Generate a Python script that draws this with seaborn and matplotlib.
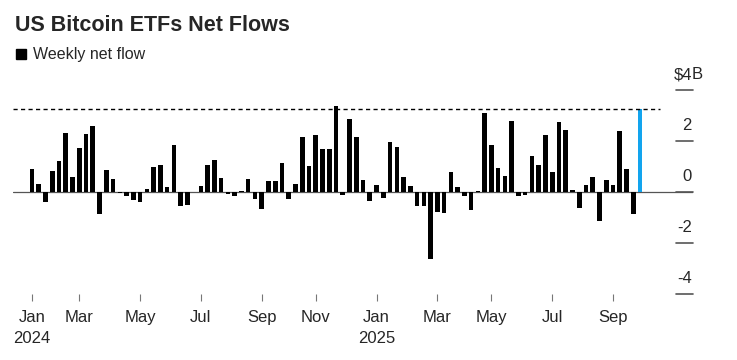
import numpy as np
import pandas as pd
import matplotlib
matplotlib.use("Agg")
import matplotlib.pyplot as plt
from matplotlib.patches import Rectangle
import seaborn as sns


# ============================
# Dados (US$ bilhões, semanas terminando na sexta)
# ============================
semana_inicio = "2024-01-12"
fluxos = [0.89, 0.33, -0.41, 0.84, 1.22, 2.30, 0.59, 1.74, 2.26, 2.59,
          -0.86, 0.86, 0.50, -0.04, -0.15, -0.30, -0.41, 0.13, 0.97, 1.07,
          0.18, 1.84, -0.56, -0.52, 0.01, 0.25, 1.06, 1.25, 0.55, -0.07,
          -0.15, 0.05, 0.52, -0.26, -0.68, 0.42, 0.42, 1.12, -0.27, 0.31,
          2.14, 1.02, 2.24, 1.67, 1.69, 3.38, -0.13, 2.88, 2.17, 0.47,
          -0.37, 0.26, -0.24, 1.97, 1.76, 0.59, 0.23, -0.56, -0.53, -2.61,
          -0.77, -0.83, 0.77, 0.19, -0.16, -0.69, 0.04, 3.08, 1.83, 0.95,
          0.63, 2.78, -0.15, -0.10, 1.41, 1.05, 2.24, 0.78, 2.75, 2.42,
          0.08, -0.61, 0.26, 0.58, -1.15, 0.46, 0.27, 2.38, 0.92, -0.88,
          3.24]
meses_tick = [1, 3, 5, 7, 9, 11]
valores_y = [4, 2, 0, -2, -4]

titulo = "US Bitcoin ETFs Net Flows"
legenda = "Weekly net flow"

datas = pd.date_range(semana_inicio, periods=len(fluxos), freq="W-FRI")
df = pd.DataFrame({"semana": np.arange(len(fluxos)), "fluxo": fluxos, "data": datas})

# primeira semana de cada mes impar vira tick
primeiros = df.groupby([df["data"].dt.year, df["data"].dt.month])["semana"].min()
tick_pos, tick_lab = [], []
for (ano, mes), pos in primeiros.items():
    if mes in meses_tick:
        rotulo = datas[pos].strftime("%b")
        if mes == 1:
            rotulo += "\n" + str(ano)
        tick_pos.append(pos)
        tick_lab.append(rotulo)

# ============================
# Grafico
# ============================
sns.set_style("white")
plt.rcParams["font.family"] = ["Liberation Sans", "DejaVu Sans"]

fig = plt.figure(figsize=(7.37, 3.6), dpi=100)
ax = fig.add_axes([13 / 737, 66 / 360, 680 / 737, 8.8 * 25.5 / 360])

sns.barplot(data=df, x="semana", y="fluxo", color="black", width=0.68,
            saturation=1, linewidth=0, ax=ax)
# semana mais recente em azul
ax.patches[-1].set_facecolor("#12a4ee")

ax.set_xlim(-2.81, 97.84)
ax.set_ylim(-4, 4.8)
sns.despine(ax=ax, left=True, bottom=True)

# linha do zero
ax.axhline(0, color="#555555", lw=0.9, zorder=0.5)

# linha tracejada no ultimo valor
ax.plot([0, 0.9515], [fluxos[-1], fluxos[-1]], transform=ax.get_yaxis_transform(),
        color="black", lw=1, ls=(0, (3, 2.4)), clip_on=False)

# eixo y a direita
for v in valores_y:
    ax.plot([0.975, 1.0], [v, v], transform=ax.get_yaxis_transform(),
            color="#555555", lw=1.2, clip_on=False)
    if v == 4:
        ax.text(0.9985, v + 0.59, "$4", ha="right", va="center", fontsize=12,
                transform=ax.get_yaxis_transform())
        ax.text(0.9975, v + 0.59, "B", ha="left", va="center", fontsize=12,
                transform=ax.get_yaxis_transform())
    else:
        ax.text(0.9985, v + 0.59, str(v), ha="right", va="center", fontsize=12,
                transform=ax.get_yaxis_transform())

ax.set_xticks(tick_pos, tick_lab)
ax.tick_params(axis="x", length=4.7, width=0.8, color="#777777", pad=7,
               labelsize=12, bottom=True)
for t in ax.get_xticklabels():
    t.set_linespacing(1.45)
ax.tick_params(axis="y", left=False, labelleft=False)
ax.set_xlabel("")
ax.set_ylabel("")

# titulo e legenda
fig.text(15 / 737, 1 - 31 / 360, titulo, fontsize=15.5, weight="bold", va="baseline")
fig.patches.append(Rectangle((15.7 / 737, 1 - 59 / 360), 10.3 / 737, 10 / 360,
                             transform=fig.transFigure, color="black"))
fig.text(33 / 737, 1 - 59.3 / 360, legenda, fontsize=11.5, va="baseline")

fig.savefig("out.png", dpi=100)
